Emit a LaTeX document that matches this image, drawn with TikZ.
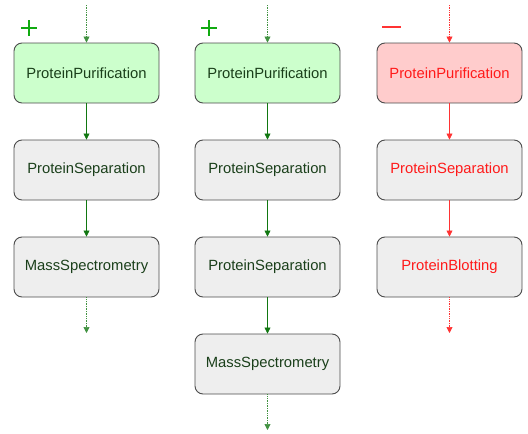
\documentclass[tikz,border=0pt]{standalone}
\usepackage{fontspec}
\setmainfont{Liberation Sans}
\usetikzlibrary{arrows.meta}
\definecolor{gfill}{HTML}{CCFFCC}
\definecolor{rfill}{HTML}{FFCCCC}
\definecolor{nfill}{HTML}{EEEEEE}
\definecolor{gtext}{HTML}{1A3F1A}
\definecolor{rtext}{HTML}{FF1A1A}
\definecolor{garrow}{HTML}{117711}
\definecolor{rarrow}{HTML}{FF3333}
\definecolor{gsign}{HTML}{11AA11}
\definecolor{rsign}{HTML}{FF3333}
\tikzset{
  box/.style={draw=black!70, line width=0.9pt, rounded corners=8pt, minimum width=145pt, minimum height=60pt, inner sep=0pt, font=\fontsize{14.8}{17}\selectfont},
  gbox/.style={box, fill=gfill, text=gtext},
  nbox/.style={box, fill=nfill, text=gtext},
  rbox/.style={box, fill=rfill, text=rtext},
  rnbox/.style={box, fill=nfill, text=rtext},
  garr/.style={draw=garrow, line width=0.7pt, -{Triangle[length=6pt,width=6pt]}},
  rarr/.style={draw=rarrow, line width=0.7pt, -{Triangle[length=6pt,width=6pt]}},
  gdot/.style={garr, densely dotted, draw=garrow!80},
  rdot/.style={rarr, densely dotted},
  sign/.style={line width=2.6pt}
}
\begin{document}
\begin{tikzpicture}[x=1pt,y=-1pt]
\useasboundingbox (0,0) rectangle (528,434);
% column 1
\node[gbox] (a1) at (86.5,73) {ProteinPurification};
\node[nbox] (a2) at (86.5,170) {ProteinSeparation};
\node[nbox] (a3) at (86.5,267) {MassSpectrometry};
\coordinate (a0) at (86.5,5);
\coordinate (a4) at (86.5,333);
\draw[gdot] (a0) -- (a1.north);
\draw[garr] (a1) -- (a2);
\draw[garr] (a2) -- (a3);
\draw[gdot] (a3.south) -- (a4);
% column 2
\node[gbox] (b1) at (267.5,73) {ProteinPurification};
\node[nbox] (b2) at (267.5,170) {ProteinSeparation};
\node[nbox] (b3) at (267.5,267) {ProteinSeparation};
\node[nbox] (b4) at (267.5,364) {MassSpectrometry};
\coordinate (b0) at (267.5,5);
\coordinate (b5) at (267.5,430);
\draw[gdot] (b0) -- (b1.north);
\draw[garr] (b1) -- (b2);
\draw[garr] (b2) -- (b3);
\draw[garr] (b3) -- (b4);
\draw[gdot] (b4.south) -- (b5);
% column 3
\node[rbox] (c1) at (449.5,73) {ProteinPurification};
\node[rnbox] (c2) at (449.5,170) {ProteinSeparation};
\node[rnbox] (c3) at (449.5,267) {ProteinBlotting};
\coordinate (c0) at (449.5,5);
\coordinate (c4) at (449.5,333);
\draw[rdot] (c0) -- (c1.north);
\draw[rarr] (c1) -- (c2);
\draw[rarr] (c2) -- (c3);
\draw[rdot] (c3.south) -- (c4);
% signs
\draw[sign, draw=gsign] (21,28) -- (37,28) (29,20) -- (29,36);
\draw[sign, draw=gsign] (201,28) -- (217,28) (209,20) -- (209,36);
\draw[line width=2pt, draw=rsign] (382,26.5) -- (401,26.5);
\end{tikzpicture}
\end{document}
